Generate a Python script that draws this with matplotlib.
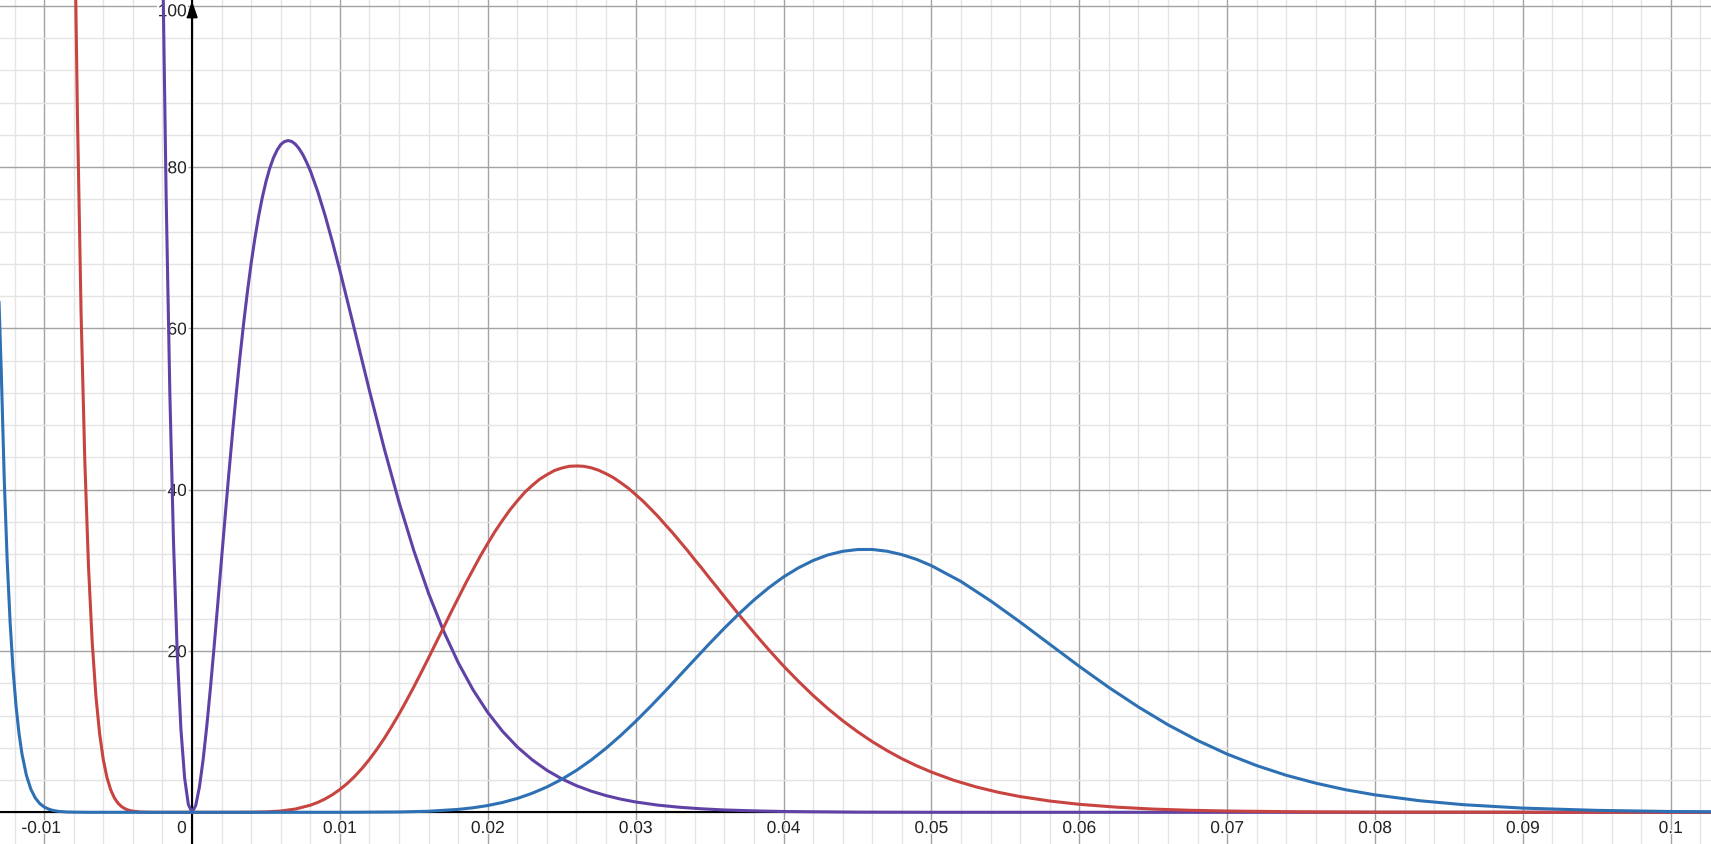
import matplotlib
matplotlib.use("Agg")
import matplotlib.pyplot as plt
from matplotlib.ticker import MultipleLocator
import matplotlib.patheffects as pe

# ---- data (x, y) ----
purple_pts = [
    (-0.0021, 122.6), (-0.002, 107.8), (-0.00175, 76.4), (-0.0015, 52.0), (-0.00125, 33.4),
    (-0.001, 19.8), (-0.00075, 10.3), (-0.0005, 4.25), (-0.00025, 0.98), (0.0, 0.0),
    (0.00025, 0.84), (0.0005, 3.12), (0.00075, 6.50), (0.001, 10.71), (0.00125, 15.49),
    (0.0015, 20.66), (0.00175, 26.03), (0.002, 31.49), (0.00225, 36.90), (0.0025, 42.18),
    (0.00275, 47.26), (0.003, 52.08), (0.00325, 56.60), (0.0035, 60.78), (0.00375, 64.60),
    (0.004, 68.08), (0.00425, 71.15), (0.0045, 73.86), (0.00475, 76.20), (0.005, 78.18),
    (0.00525, 79.82), (0.0055, 81.12), (0.00575, 82.09), (0.006, 82.80), (0.00625, 83.16),
    (0.0065, 83.29), (0.00675, 83.17), (0.007, 82.82), (0.00725, 82.26), (0.0075, 81.52),
    (0.00775, 80.59), (0.008, 79.55), (0.0085, 76.97), (0.009, 74.00), (0.0095, 70.68),
    (0.010, 67.16), (0.0105, 63.47), (0.011, 59.75), (0.012, 52.27), (0.013, 45.09),
    (0.014, 38.44), (0.015, 32.44), (0.016, 27.13), (0.017, 22.52), (0.018, 18.56),
    (0.019, 15.20), (0.020, 12.38), (0.021, 10.04), (0.022, 8.10), (0.023, 6.51),
    (0.024, 5.21), (0.025, 4.15), (0.026, 3.30), (0.027, 2.62), (0.028, 2.07),
    (0.029, 1.63), (0.030, 1.28), (0.0315, 0.89), (0.033, 0.62), (0.0345, 0.43),
    (0.036, 0.29), (0.038, 0.18), (0.040, 0.10), (0.045, 0.02), (0.050, 0.0),
    (0.103, 0.0),
]

red_pts = [
    (-0.0079, 105.7), (-0.00775, 86.6), (-0.0075, 61.7), (-0.00725, 43.58), (-0.007, 30.47),
    (-0.00675, 21.09), (-0.0065, 14.43), (-0.00625, 9.76), (-0.006, 6.52), (-0.00575, 4.30),
    (-0.0055, 2.79), (-0.00525, 1.78), (-0.005, 1.12), (-0.00475, 0.685), (-0.0045, 0.41),
    (-0.00425, 0.241), (-0.004, 0.14), (-0.0035, 0.04), (-0.003, 0.01), (-0.002, 0.0),
    (0.0, 0.0), (0.002, 0.0), (0.004, 0.01), (0.005, 0.05), (0.006, 0.16), (0.007, 0.41),
    (0.008, 0.88), (0.0085, 1.22), (0.009, 1.66), (0.0095, 2.19), (0.010, 2.83),
    (0.0105, 3.58), (0.011, 4.45), (0.0115, 5.45), (0.012, 6.57), (0.0125, 7.81),
    (0.013, 9.16), (0.0135, 10.63), (0.014, 12.18), (0.0145, 13.84), (0.015, 15.55),
    (0.0155, 17.34), (0.016, 19.16), (0.0165, 21.02), (0.017, 22.87), (0.0175, 24.74),
    (0.018, 26.56), (0.0185, 28.37), (0.019, 30.08), (0.0195, 31.78), (0.020, 33.34),
    (0.0205, 34.85), (0.021, 36.21), (0.0215, 37.50), (0.022, 38.62), (0.0225, 39.67),
    (0.023, 40.52), (0.0235, 41.29), (0.024, 41.86), (0.0245, 42.37), (0.025, 42.68),
    (0.0255, 42.90), (0.026, 42.94), (0.0265, 42.90), (0.027, 42.71), (0.0275, 42.41),
    (0.028, 41.98), (0.0285, 41.49), (0.029, 40.86), (0.0295, 40.19), (0.030, 39.39),
    (0.0305, 38.58), (0.031, 37.65), (0.0315, 36.71), (0.032, 35.67), (0.0325, 34.65),
    (0.033, 33.56), (0.0335, 32.47), (0.034, 31.31), (0.0345, 30.20), (0.035, 29.03),
    (0.0355, 27.90), (0.036, 26.74), (0.0365, 25.62), (0.037, 24.47), (0.0375, 23.38),
    (0.038, 22.28), (0.0385, 21.21), (0.039, 20.16), (0.0395, 19.15), (0.040, 18.14),
    (0.041, 16.26), (0.042, 14.49), (0.043, 12.86), (0.044, 11.36), (0.045, 10.00),
    (0.046, 8.76), (0.047, 7.65), (0.048, 6.65), (0.049, 5.77), (0.050, 4.99),
    (0.0515, 3.98), (0.053, 3.16), (0.0545, 2.49), (0.056, 1.95), (0.058, 1.40),
    (0.060, 0.99), (0.0625, 0.64), (0.065, 0.40), (0.0675, 0.25), (0.070, 0.16),
    (0.075, 0.06), (0.080, 0.02), (0.103, 0.0),
]

blue_pts = [
    (-0.0131, 66.0), (-0.0129, 54.70), (-0.0127, 41.41), (-0.0125, 31.26),
    (-0.0123, 23.52), (-0.0121, 17.62), (-0.0119, 13.16), (-0.0117, 9.79), (-0.0115, 7.25),
    (-0.0112, 4.59), (-0.0109, 2.87), (-0.0106, 1.78), (-0.0103, 1.09), (-0.010, 0.66),
    (-0.0097, 0.40), (-0.0094, 0.23), (-0.009, 0.11), (-0.0085, 0.04), (-0.008, 0.02),
    (-0.007, 0.0), (0.0, 0.0), (0.010, 0.0), (0.014, 0.04), (0.016, 0.13), (0.018, 0.36),
    (0.019, 0.56), (0.020, 0.84), (0.021, 1.22), (0.022, 1.72), (0.023, 2.36), (0.024, 3.14),
    (0.025, 4.09), (0.026, 5.20), (0.027, 6.49), (0.028, 7.94), (0.029, 9.54),
    (0.030, 11.27), (0.031, 13.11), (0.032, 15.02), (0.033, 17.00), (0.034, 18.97),
    (0.035, 20.93), (0.036, 22.83), (0.037, 24.63), (0.038, 26.32), (0.039, 27.84),
    (0.040, 29.18), (0.041, 30.30), (0.042, 31.22), (0.043, 31.91), (0.044, 32.36),
    (0.045, 32.58), (0.046, 32.59), (0.047, 32.37), (0.048, 31.95), (0.049, 31.36),
    (0.050, 30.58), (0.052, 28.62), (0.054, 26.22), (0.056, 23.59), (0.058, 20.84),
    (0.060, 18.10), (0.062, 15.48), (0.064, 13.06), (0.066, 10.85), (0.068, 8.91),
    (0.070, 7.22), (0.072, 5.79), (0.074, 4.59), (0.076, 3.61), (0.078, 2.80),
    (0.080, 2.16), (0.083, 1.44), (0.086, 0.94), (0.090, 0.52), (0.095, 0.24),
    (0.100, 0.10), (0.103, 0.06),
]

x_tick_vals = [-0.01, 0.01, 0.02, 0.03, 0.04, 0.05, 0.06, 0.07, 0.08, 0.09, 0.1]
x_tick_labels = ["-0.01", "0.01", "0.02", "0.03", "0.04", "0.05", "0.06", "0.07", "0.08", "0.09", "0.1"]
y_tick_vals = [20, 40, 60, 80]
y_tick_labels = ["20", "40", "60", "80"]

purple_x, purple_y = zip(*purple_pts)
red_x, red_y = zip(*red_pts)
blue_x, blue_y = zip(*blue_pts)

# ---- styling ----
RED = "#c74440"
BLUE = "#2d70b3"
PURPLE = "#6042a6"
FONT = ["Liberation Sans", "DejaVu Sans"]
TXT = "#222222"
FS = 12.5

fig = plt.figure(figsize=(17.11, 8.45), dpi=100)
ax = fig.add_axes([0, 0, 1, 1])
ax.set_xlim(-0.012985, 0.10272)
ax.set_ylim(-3.93, 100.84)

ax.xaxis.set_major_locator(MultipleLocator(0.01))
ax.xaxis.set_minor_locator(MultipleLocator(0.002))
ax.yaxis.set_major_locator(MultipleLocator(20))
ax.yaxis.set_minor_locator(MultipleLocator(4))
ax.grid(which="minor", color="#e4e4e4", lw=1.0, zorder=0)
ax.grid(which="major", color="#a3a3a3", lw=1.0, zorder=0)
ax.set_axisbelow(True)
ax.tick_params(which="both", length=0, labelbottom=False, labelleft=False)
for s in ax.spines.values():
    s.set_visible(False)

# axes lines
ax.axhline(0, color="black", lw=1.5, zorder=1)
ax.axvline(0, color="black", lw=1.5, zorder=1)
ax.annotate("", xy=(0, 1 - 2.0 / 845), xycoords=("data", "axes fraction"),
            xytext=(0, 1 - 40.0 / 845), textcoords=("data", "axes fraction"),
            arrowprops=dict(arrowstyle="-|>,head_length=0.95,head_width=0.33",
                            color="black", lw=1.5, shrinkA=0, shrinkB=0),
            zorder=1)

halo_y = [pe.withStroke(linewidth=3.5, foreground="white")]
halo_x = [pe.withStroke(linewidth=1.5, foreground="white")]

# x tick labels
for v, lab in zip(x_tick_vals, x_tick_labels):
    dx = -2.9 if lab.startswith("-") else 0.0
    ax.annotate(lab, xy=(v, 0), xycoords="data", xytext=(dx, -20.7),
                textcoords="offset pixels", ha="center", va="baseline",
                fontsize=FS, color=TXT, family=FONT, path_effects=halo_x, zorder=2,
                annotation_clip=False)
# origin label
ax.annotate("0", xy=(0, 0), xycoords="data", xytext=(-5.3, -20.7),
            textcoords="offset pixels", ha="right", va="baseline",
            fontsize=FS, color=TXT, family=FONT, path_effects=halo_x, zorder=2)
# y tick labels
for v, lab in zip(y_tick_vals, y_tick_labels):
    ax.annotate(lab, xy=(0, v), xycoords="data", xytext=(-5.3, -6.2),
                textcoords="offset pixels", ha="right", va="baseline",
                fontsize=FS, color=TXT, family=FONT, path_effects=halo_y, zorder=2)
ax.annotate("100", xy=(0, 100), xycoords="data", xytext=(-5.3, -10.5),
            textcoords="offset pixels", ha="right", va="baseline",
            fontsize=FS, color=TXT, family=FONT, path_effects=halo_y, zorder=2,
            annotation_clip=False)

# curves
kw = dict(lw=2.2, solid_capstyle="round", solid_joinstyle="round")
ax.plot(purple_x, purple_y, color=PURPLE, zorder=3, **kw)
ax.plot(red_x, red_y, color=RED, zorder=4, **kw)
ax.plot(blue_x, blue_y, color=BLUE, zorder=5, **kw)

fig.savefig("out.png", dpi=100, facecolor="white")
